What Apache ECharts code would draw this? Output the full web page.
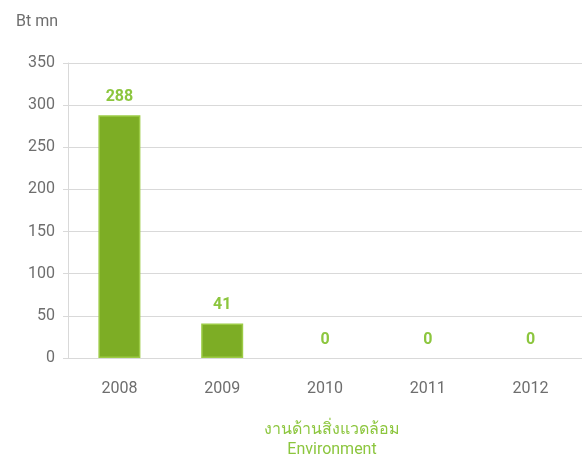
<!DOCTYPE html>
<html>
<head>
<meta charset="utf-8">
<script src="https://cdn.jsdelivr.net/npm/echarts@6/dist/echarts.min.js"></script>
<style>
  html, body { margin: 0; padding: 0; background: #fff; }
  #main { width: 584px; height: 456px; }
</style>
</head>
<body>
<div id="main"></div>
<script>
// ข้อมูลกราฟ
var years = ['2008', '2009', '2010', '2011', '2012'];
var values = [288, 41, 0, 0, 0];
var yTicks = [0, 50, 100, 150, 200, 250, 300, 350];
var unitName = 'Bt mn';
var captionTh = 'งานด้านสิ่งแวดล้อม';
var captionEn = 'Environment';

var fontList = 'Roboto, "Liberation Sans", "Noto Sans", sans-serif';
var gray = '#6e6e6e';
var green = '#8cc63e';

// แท่งค่า 0 ไม่ต้องมีเส้นขอบ
var barData = values.map(function (v) {
    return v === 0 ? { value: v, itemStyle: { borderWidth: 0, opacity: 0 } } : v;
});

var myChart = echarts.init(document.getElementById('main'));
var option = {
    animation: false,
    textStyle: { fontFamily: fontList },
    grid: { left: 68, right: 2, top: 63, bottom: 98 },
    title: {
        text: captionTh + '\n' + captionEn,
        left: 327,
        textAlign: 'center',
        top: 415,
        textStyle: { color: green, fontSize: 16, fontWeight: 'normal', lineHeight: 20, fontFamily: fontList }
    },
    xAxis: {
        type: 'category',
        data: years,
        axisLine: { show: false },
        axisTick: { show: false },
        axisLabel: { color: gray, fontSize: 16, margin: 23 }
    },
    yAxis: {
        type: 'value',
        min: yTicks[0],
        max: yTicks[yTicks.length - 1],
        interval: 50,
        name: unitName,
        nameLocation: 'end',
        nameGap: 33,
        nameTextStyle: { color: gray, fontSize: 16, align: 'right', padding: [0, 10, 0, 0] },
        axisLine: { show: true, lineStyle: { color: '#d9d9d9' } },
        axisTick: { show: true, length: 5, lineStyle: { color: '#d9d9d9' } },
        axisLabel: { color: gray, fontSize: 16, margin: 13 },
        splitLine: { lineStyle: { color: '#d9d9d9' } }
    },
    series: [{
        type: 'bar',
        data: barData,
        barWidth: 42,
        itemStyle: {
            color: '#7dad25',
            borderColor: '#9ccb45',
            borderWidth: 1.5
        },
        label: {
            show: true,
            position: 'top',
            distance: 10,
            color: green,
            fontSize: 16,
            fontWeight: 'bold',
            opacity: 1
        }
    }]
};
myChart.setOption(option);
</script>
</body>
</html>
